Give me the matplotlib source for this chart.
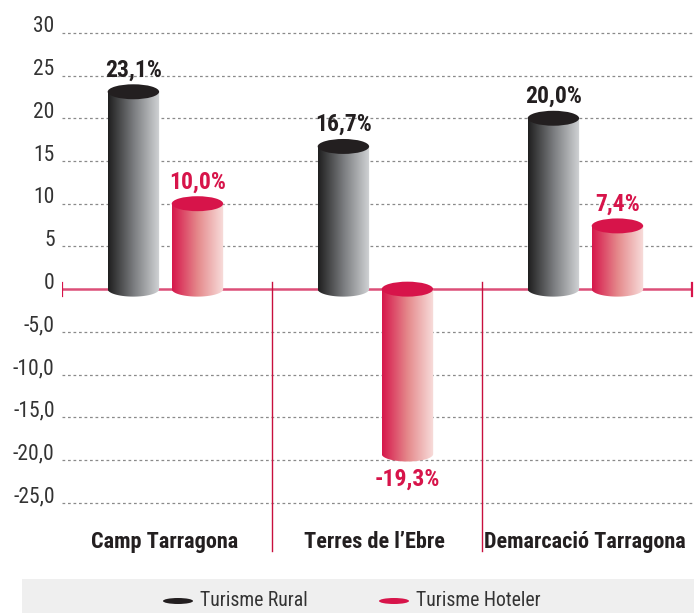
import numpy as np
import matplotlib
matplotlib.use("Agg")
import matplotlib.pyplot as plt
from matplotlib.patches import Ellipse, Rectangle, PathPatch
from matplotlib.path import Path
from matplotlib.colors import LinearSegmentedColormap

# data
categories = ["Camp Tarragona", "Terres de l\u2019Ebre", "Demarcació Tarragona"]
series_names = ["Turisme Rural", "Turisme Hoteler"]
rural = [23.1, 16.7, 20.0]
hoteler = [10.0, -19.3, 7.4]
yticks = [30, 25, 20, 15, 10, 5, 0, -5, -10, -15, -20, -25]
ytick_labels = ["30", "25", "20", "15", "10", "5", "0",
                "-5,0", "-10,0", "-15,0", "-20,0", "-25,0"]

FONT = ["Roboto Condensed", "DejaVu Sans"]
DARK = "#231f20"
RED = "#d7144a"
PINK_AXIS = "#dc4f78"

cmap_dark = LinearSegmentedColormap.from_list("dk", ["#1f1f1f", "#7b7d80", "#d2d4d6"])
cmap_red = LinearSegmentedColormap.from_list("rd", ["#d6174b", "#e58a8c", "#f8dedc"])

fig = plt.figure(figsize=(6.94, 6.13), dpi=100)
ax = fig.add_axes([62 / 694, 59 / 613, 632 / 694, 534 / 613])
ax.set_xlim(0, 3 * 632 / 630)
ax.set_ylim(-31, 31.5)
ax.axis("off")

# dotted grid + tick labels (labels sit on their gridline)
for t, lab in zip(yticks, ytick_labels):
    if t != 0:
        ax.axhline(t, color="#8a8a8a", lw=0.9, ls=(0, (2.2, 2.2)), zorder=0)
    ax.text(-0.035, t + 0.05, lab, ha="right", va="baseline",
            fontsize=15.5, color="#333333", family=FONT)

# zero line with end ticks
ax.plot([0, 3], [0, 0], color=PINK_AXIS, lw=1.8, zorder=1, solid_capstyle="butt")
for xe in [0, 3]:
    ax.plot([xe, xe], [-0.75, 0.75], color=RED, lw=1.6, zorder=1)

# group separators
for xs in [1, 2]:
    ax.plot([xs, xs], [0.8, -30.6], color="#c8103e", lw=1.0, zorder=1)

BW = 0.245
EH = 1.75


def cylinder(xc, v, cmap, top_color):
    top = max(0, v)
    bot = min(0, v)
    x0, x1 = xc - BW / 2, xc + BW / 2
    th = np.linspace(np.pi, 2 * np.pi, 40)
    ex = xc + BW / 2 * np.cos(th)
    ey = bot + EH / 2 * np.sin(th)
    verts = [(x0, top)] + list(zip(ex, ey)) + [(x1, top), (x0, top)]
    body = PathPatch(Path(verts, closed=True), facecolor="none", edgecolor="none")
    ax.add_patch(body)
    grad = np.linspace(0, 1, 256).reshape(1, -1)
    im = ax.imshow(grad, cmap=cmap, aspect="auto", extent=(x0, x1, bot - EH, top),
                   zorder=3, interpolation="bilinear")
    im.set_clip_path(body)
    ax.add_patch(Ellipse((xc, top), BW, EH, facecolor=top_color, edgecolor="none", zorder=4))


for i in range(len(categories)):
    xd = i + 0.5 - 0.16
    xr = i + 0.5 + 0.145
    cylinder(xd, rural[i], cmap_dark, DARK)
    cylinder(xr, hoteler[i], cmap_red, RED)
    for xc, v, col in [(xd, rural[i], DARK), (xr, hoteler[i], RED)]:
        lab = f"{v:.1f}".replace(".", ",") + "%"
        if v >= 0:
            ax.text(xc, v + 1.2, lab, ha="center", va="bottom", fontsize=17,
                    fontweight="bold", color=col, family=FONT, zorder=5)
        else:
            ax.text(xc, v - 1.6, lab, ha="center", va="top", fontsize=17,
                    fontweight="bold", color=col, family=FONT, zorder=5)
    ax.text(i + 0.49, -29.6, categories[i], ha="center", va="center", fontsize=16,
            fontweight="bold", color=DARK, family=FONT)

# legend band
fig.patches.append(Rectangle((22 / 694, 0), 672 / 694, 34 / 613, transform=fig.transFigure,
                             facecolor="#efefef", edgecolor="none", zorder=0))
legend_items = [(178, DARK, 200), (394, RED, 416)]
for (mx, col, tx), name in zip(legend_items, series_names):
    fig.patches.append(Ellipse((mx / 694, 12 / 613), 30 / 694, 6 / 613,
                               transform=fig.transFigure, facecolor=col,
                               edgecolor="none", zorder=1))
    fig.text(tx / 694, 12 / 613, name, ha="left", va="center", fontsize=14.2,
             color="#333333", family=FONT)

fig.savefig("out.png", dpi=100)
